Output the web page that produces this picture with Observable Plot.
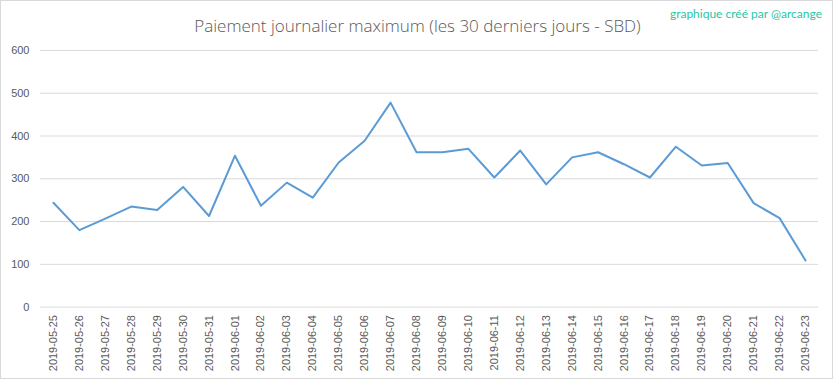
<!DOCTYPE html>
<html>
<head>
<meta charset="utf-8">
<script src="https://cdn.jsdelivr.net/npm/d3@7"></script>
<script src="https://cdn.jsdelivr.net/npm/@observablehq/plot@0.6"></script>
<style>
  html, body { margin: 0; padding: 0; background: #fff; }
  #wrap { position: relative; width: 833px; height: 379px; box-sizing: border-box; border: 1px solid #d9d9d9; overflow: hidden; }
  #title { position: absolute; left: 0; width: 833px; top: 13px; text-align: center; font-family: "Open Sans", sans-serif; font-weight: 300; font-size: 17px; color: #595959; white-space: nowrap; }
  #credit { position: absolute; right: 10px; top: 5px; font-family: "Lato", sans-serif; font-size: 12px; color: #26c6a6; white-space: nowrap; }
  #chart { position: absolute; left: -1px; top: -1px; }
</style>
</head>
<body>
<div id="wrap">
  <div id="chart"></div>
  <div id="title">Paiement journalier maximum (les 30 derniers jours - SBD)</div>
  <div id="credit">graphique créé par @arcange</div>
</div>
<script>
const dates = [
  "2019-05-25","2019-05-26","2019-05-27","2019-05-28","2019-05-29","2019-05-30","2019-05-31",
  "2019-06-01","2019-06-02","2019-06-03","2019-06-04","2019-06-05","2019-06-06","2019-06-07",
  "2019-06-08","2019-06-09","2019-06-10","2019-06-11","2019-06-12","2019-06-13","2019-06-14",
  "2019-06-15","2019-06-16","2019-06-17","2019-06-18","2019-06-19","2019-06-20","2019-06-21",
  "2019-06-22","2019-06-23"
];
const payouts = [
  244, 180, 207, 235, 227, 281, 213,
  354, 237, 291, 256, 338, 389, 478,
  362, 362, 370, 303, 366, 287, 350,
  362, 334, 303, 375, 331, 337, 243,
  208, 109
];
const yTicks = [0, 100, 200, 300, 400, 500, 600];

const data = dates.map((d, i) => ({date: d, value: payouts[i]}));

const chart = Plot.plot({
  width: 833,
  height: 379,
  marginLeft: 40,
  marginRight: 14,
  marginTop: 50,
  marginBottom: 72,
  style: {fontFamily: "'Liberation Sans', Arial, sans-serif", fontSize: "11px", color: "#595959", background: "transparent"},
  x: {type: "point", domain: dates, padding: 0.5, round: false, label: null},
  y: {domain: [0, 600], label: null},
  marks: [
    Plot.ruleY(yTicks, {stroke: "#d9d9d9", strokeWidth: 1}),
    Plot.axisY({ticks: yTicks, tickSize: 0, tickPadding: 11, label: null, fill: "#595959"}),
    Plot.axisX({tickRotate: -90, tickSize: 0, tickPadding: 8, label: null, fill: "#595959"}),
    Plot.lineY(data, {x: "date", y: "value", stroke: "#5b9bd5", strokeWidth: 2, curve: "linear"})
  ]
});
document.getElementById("chart").appendChild(chart);
</script>
</body>
</html>
